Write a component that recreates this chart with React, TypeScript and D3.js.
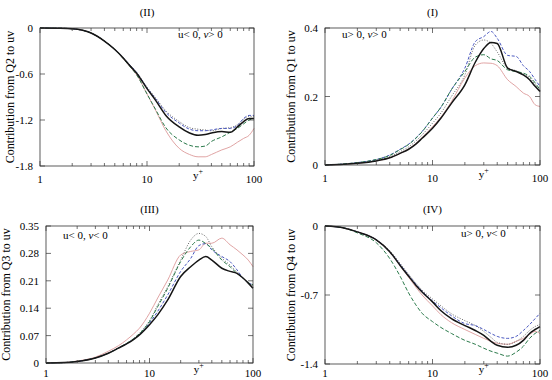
import * as d3 from "d3";

const yPlus = [1, 1.5, 2, 3, 4, 5, 6, 7, 8, 10, 12, 15, 20, 25, 30, 35, 40, 50, 60, 70, 80, 90, 100];

// Q2 (u<0, v>0)
const q2Black = [0, -0.003, -0.01, -0.065, -0.17, -0.28, -0.39, -0.5, -0.59, -0.79, -0.94, -1.14, -1.29, -1.37, -1.4, -1.39, -1.37, -1.35, -1.36, -1.29, -1.22, -1.18, -1.18];
const q2Pink = [0, -0.003, -0.01, -0.065, -0.17, -0.28, -0.4, -0.51, -0.61, -0.86, -1.07, -1.34, -1.57, -1.65, -1.68, -1.68, -1.65, -1.59, -1.55, -1.49, -1.44, -1.4, -1.31];
const q2Green = [0, -0.003, -0.01, -0.065, -0.17, -0.28, -0.4, -0.51, -0.61, -0.86, -1.06, -1.3, -1.46, -1.53, -1.55, -1.54, -1.48, -1.42, -1.36, -1.31, -1.25, -1.2, -1.18];
const q2Blue = [0, -0.003, -0.01, -0.065, -0.17, -0.28, -0.39, -0.49, -0.58, -0.78, -0.92, -1.1, -1.24, -1.32, -1.34, -1.34, -1.33, -1.31, -1.31, -1.27, -1.18, -1.14, -1.14];
const q2Gray = [0, -0.003, -0.01, -0.065, -0.17, -0.28, -0.39, -0.49, -0.58, -0.77, -0.91, -1.08, -1.22, -1.3, -1.32, -1.33, -1.34, -1.31, -1.3, -1.26, -1.19, -1.15, -1.16];

// Q1 (u>0, v>0)
const q1Black = [0, 0.002, 0.005, 0.012, 0.021, 0.034, 0.046, 0.061, 0.078, 0.107, 0.137, 0.18, 0.234, 0.3, 0.34, 0.358, 0.355, 0.283, 0.273, 0.263, 0.249, 0.23, 0.215];
const q1Pink = [0, 0.002, 0.005, 0.012, 0.021, 0.034, 0.047, 0.063, 0.08, 0.112, 0.14, 0.185, 0.254, 0.29, 0.298, 0.297, 0.29, 0.249, 0.229, 0.21, 0.2, 0.176, 0.171];
const q1Green = [0, 0.003, 0.007, 0.016, 0.028, 0.045, 0.06, 0.078, 0.097, 0.137, 0.169, 0.22, 0.273, 0.315, 0.322, 0.31, 0.305, 0.278, 0.273, 0.268, 0.259, 0.24, 0.22];
const q1Blue = [0, 0.003, 0.007, 0.016, 0.029, 0.046, 0.061, 0.079, 0.098, 0.137, 0.169, 0.22, 0.283, 0.36, 0.375, 0.39, 0.37, 0.32, 0.317, 0.29, 0.273, 0.25, 0.229];
const q1Gray = [0, 0.003, 0.006, 0.014, 0.025, 0.039, 0.053, 0.07, 0.088, 0.122, 0.152, 0.2, 0.263, 0.35, 0.365, 0.355, 0.33, 0.283, 0.275, 0.265, 0.255, 0.235, 0.215];

// Q3 (u<0, v<0)
const q3Black = [0, 0.001, 0.004, 0.013, 0.025, 0.038, 0.049, 0.06, 0.072, 0.098, 0.123, 0.161, 0.221, 0.246, 0.263, 0.272, 0.263, 0.242, 0.234, 0.229, 0.217, 0.204, 0.191];
const q3Pink = [0, 0.001, 0.005, 0.015, 0.03, 0.044, 0.059, 0.074, 0.089, 0.127, 0.166, 0.212, 0.276, 0.285, 0.289, 0.306, 0.306, 0.319, 0.302, 0.289, 0.276, 0.263, 0.246];
const q3Green = [0, 0.001, 0.004, 0.013, 0.025, 0.038, 0.05, 0.062, 0.075, 0.106, 0.144, 0.191, 0.259, 0.297, 0.314, 0.305, 0.293, 0.263, 0.246, 0.229, 0.217, 0.205, 0.2];
const q3Blue = [0, 0.001, 0.004, 0.013, 0.025, 0.038, 0.049, 0.061, 0.073, 0.102, 0.132, 0.174, 0.234, 0.267, 0.3, 0.305, 0.289, 0.272, 0.259, 0.238, 0.217, 0.205, 0.2];
const q3Gray = [0, 0.001, 0.004, 0.013, 0.025, 0.038, 0.05, 0.062, 0.076, 0.108, 0.148, 0.195, 0.263, 0.314, 0.331, 0.323, 0.297, 0.268, 0.25, 0.232, 0.217, 0.205, 0.198];

// Q4 (u>0, v<0)
const q4Black = [0, -0.02, -0.06, -0.14, -0.26, -0.4, -0.51, -0.6, -0.67, -0.77, -0.86, -0.94, -1.01, -1.06, -1.11, -1.17, -1.21, -1.23, -1.21, -1.16, -1.09, -1.05, -1.02];
const q4Pink = [0, -0.02, -0.06, -0.14, -0.26, -0.4, -0.52, -0.62, -0.7, -0.81, -0.9, -0.98, -1.05, -1.1, -1.14, -1.17, -1.19, -1.2, -1.17, -1.14, -1.1, -1.07, -1.09];
const q4Green = [0, -0.02, -0.07, -0.17, -0.33, -0.51, -0.68, -0.8, -0.885, -0.97, -1.03, -1.09, -1.16, -1.2, -1.24, -1.27, -1.29, -1.32, -1.28, -1.22, -1.14, -1.09, -1.06];
const q4Blue = [0, -0.02, -0.06, -0.14, -0.26, -0.39, -0.5, -0.59, -0.66, -0.76, -0.83, -0.91, -0.99, -1.01, -1.05, -1.09, -1.12, -1.14, -1.12, -1.06, -1.0, -0.94, -0.885];
const q4Gray = [0, -0.02, -0.06, -0.14, -0.25, -0.38, -0.49, -0.58, -0.65, -0.74, -0.81, -0.89, -0.96, -1.01, -1.07, -1.13, -1.18, -1.2, -1.17, -1.12, -1.06, -1.02, -1.0];

const xTickLabels = ["1", "10", "100"];
const q2Ticks = [0, -0.6, -1.2, -1.8];
const q1Ticks = [0, 0.2, 0.4];
const q3Ticks = [0, 0.07, 0.14, 0.21, 0.28, 0.35];
const q4Ticks = [0, -0.7, -1.4];

const styles = [
  { color: "#dd9a9a", width: 0.9, dash: null },
  { color: "#555", width: 0.9, dash: "1,1.6" },
  { color: "#4a58c0", width: 1, dash: "3,1.8" },
  { color: "#2b7a4b", width: 1, dash: "4,2" },
  { color: "#151515", width: 1.5, dash: null },
];

const serif = "'Liberation Serif', 'Times New Roman', serif";

const panels = [
  { title: "(II)", ylabel: "Contribution from Q2 to uv", note: ["u< 0, ", "v", "> 0"], ticks: q2Ticks,
    series: [q2Pink, q2Gray, q2Blue, q2Green, q2Black], left: 40, right: 254, top: 28, bottom: 166,
    labelX: 14, noteX: 178, noteY: 38, titleY: 16, xLabDy: 17 },
  { title: "(I)", ylabel: "Contribution from Q1 to uv", note: ["u> 0, ", "v", "> 0"], ticks: q1Ticks,
    series: [q1Pink, q1Gray, q1Blue, q1Green, q1Black], left: 325, right: 540, top: 28, bottom: 165,
    labelX: 295, noteX: 342, noteY: 38, titleY: 16, xLabDy: 17 },
  { title: "(III)", ylabel: "Contribution from Q3 to uv", note: ["u< 0, ", "v", "< 0"], ticks: q3Ticks,
    series: [q3Pink, q3Gray, q3Blue, q3Green, q3Black], left: 46, right: 253, top: 226, bottom: 363,
    labelX: 10, noteX: 63, noteY: 239, titleY: 213, xLabDy: 14 },
  { title: "(IV)", ylabel: "Contribution from Q4 to uv", note: ["u> 0, ", "v", "< 0"], ticks: q4Ticks,
    series: [q4Pink, q4Gray, q4Blue, q4Green, q4Black], left: 325, right: 540, top: 226, bottom: 364,
    labelX: 295, noteX: 461, noteY: 237, titleY: 213, xLabDy: 13 },
];

function Panel({ p }) {
  const x = d3.scaleLog().domain([1, 100]).range([p.left, p.right]);
  const yDom = d3.extent(p.ticks) as [number, number];
  const y = d3.scaleLinear().domain(yDom).range([p.bottom, p.top]);
  const line = d3
    .line<number>()
    .x((_, i) => x(yPlus[i]))
    .y((d) => y(d))
    .curve(d3.curveMonotoneX);
  const xTicks = x.ticks();
  const fmt = (v: number) => (v === 0 ? "0" : String(v));
  const cy = (p.top + p.bottom) / 2;
  return (
    <g>
      <text x={(p.left + p.right) / 2} y={p.titleY} textAnchor="middle" fontSize={11} fontFamily={serif}>
        {p.title}
      </text>
      <g>
        {p.series.map((s, i) => (
          <path key={i} d={line(s) || ""} fill="none" stroke={styles[i].color}
            strokeWidth={styles[i].width} strokeDasharray={styles[i].dash || undefined} />
        ))}
      </g>
      <rect x={p.left} y={p.top} width={p.right - p.left} height={p.bottom - p.top}
        fill="none" stroke="#333" strokeWidth={0.8} />
      {xTicks.map((t, i) => {
        const major = Math.abs(Math.log10(t) - Math.round(Math.log10(t))) < 1e-9;
        const len = major ? 5 : 3;
        return (
          <g key={i} stroke="#333" strokeWidth={0.7}>
            <line x1={x(t)} x2={x(t)} y1={p.bottom} y2={p.bottom - len} />
            <line x1={x(t)} x2={x(t)} y1={p.top} y2={p.top + len} />
          </g>
        );
      })}
      {xTickLabels.map((l) => (
        <text key={l} x={x(+l)} y={p.bottom + p.xLabDy} textAnchor="middle" fontSize={11} fontFamily={serif}>
          {l}
        </text>
      ))}
      <text x={x(30)} y={p.bottom + p.xLabDy - 4} textAnchor="middle" fontSize={11} fontFamily={serif}>
        y<tspan dy={-5} fontSize={8}>+</tspan>
      </text>
      {p.ticks.map((t) => (
        <g key={t}>
          <line x1={p.left} x2={p.left + 5} y1={y(t)} y2={y(t)} stroke="#333" strokeWidth={0.7} />
          <line x1={p.right} x2={p.right - 5} y1={y(t)} y2={y(t)} stroke="#333" strokeWidth={0.7} />
          <text x={p.left - 7} y={y(t) + 4} textAnchor="end" fontSize={11} fontFamily={serif}>
            {fmt(t)}
          </text>
        </g>
      ))}
      <text transform={`translate(${p.labelX},${cy}) rotate(-90)`} textAnchor="middle" fontSize={12} fontFamily={serif}>
        {p.ylabel}
      </text>
      <text x={p.noteX} y={p.noteY} fontSize={11} fontFamily={serif}>
        {p.note[0]}
        <tspan fontStyle="italic">{p.note[1]}</tspan>
        {p.note[2]}
      </text>
    </g>
  );
}

export default function App() {
  return (
    <svg width={552} height={380} style={{ position: "absolute", left: 0, top: 0, background: "#fff" }}>
      {panels.map((p, i) => (
        <Panel key={i} p={p} />
      ))}
    </svg>
  );
}
